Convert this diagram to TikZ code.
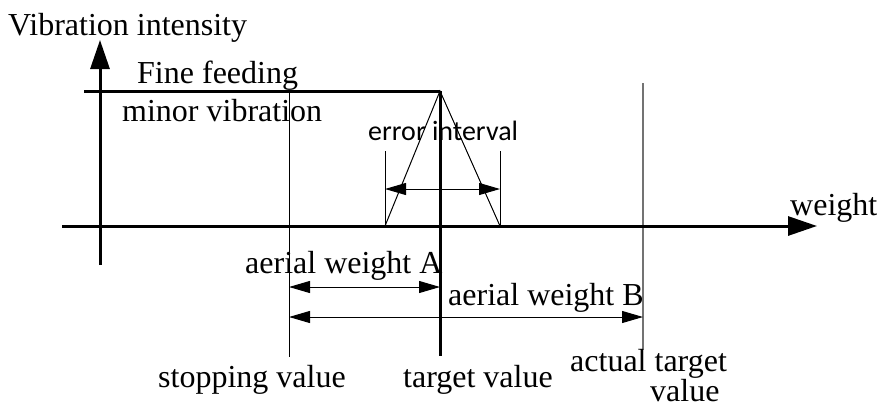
\documentclass[tikz,border=0pt]{standalone}
\usepackage{fontspec}
\setmainfont{Liberation Serif}
\newfontfamily\carlito{Carlito}
\usetikzlibrary{arrows.meta}
\begin{document}
\begin{tikzpicture}[x=1pt,y=-1pt,
  lbl/.style={anchor=base west, inner sep=0pt, font=\fontsize{32}{38}\selectfont},
  axisline/.style={line width=3pt, -{Triangle[length=29pt,width=19pt]}},
  boldline/.style={line width=3pt},
  thinline/.style={line width=1pt},
  grayline/.style={line width=1.5pt, draw=black!55},
  dimline/.style={line width=1pt, {Triangle[length=21pt,width=12pt]}-{Triangle[length=21pt,width=12pt]}}
]
\useasboundingbox (0,0) rectangle (878,407);
% geometry points
\coordinate (yb) at (100,265); \coordinate (yt) at (100,40);
\coordinate (xl) at (62,226); \coordinate (xr) at (817,226);
\coordinate (tl) at (84,91); \coordinate (apex) at (440,91);
\coordinate (sTop) at (289,91); \coordinate (sBot) at (289,357);
\coordinate (tBot) at (440,356);
\coordinate (aTop) at (643,83); \coordinate (aBot) at (643,350);
\coordinate (eL) at (385,226); \coordinate (eR) at (500,226);
\coordinate (eLt) at (385,151); \coordinate (eRt) at (500,151);
\coordinate (eLa) at (385,189); \coordinate (eRa) at (500,189);
\coordinate (wA1) at (289,287); \coordinate (wA2) at (440,287);
\coordinate (wB1) at (289,317); \coordinate (wB2) at (643,317);
% lines
\draw[thinline] (sTop) -- (sBot);
\draw[grayline] (aTop) -- (aBot);
\draw[thinline] (eL) -- (apex) -- (eR);
\draw[thinline] (eLt) -- (eL);
\draw[thinline] (eRt) -- (eR);
\draw[dimline] (eLa) -- (eRa);
\draw[dimline] (wA1) -- (wA2);
\draw[dimline] (wB1) -- (wB2);
\draw[boldline] (tl) -- (apex);
\draw[boldline] (apex) -- (tBot);
\draw[axisline] (yb) -- (yt);
\draw[axisline] (xl) -- (xr);
% labels
\node[lbl] (ylab) at (8,35) {Vibration intensity};
\node[lbl] (fine) at (137,83) {Fine feeding};
\node[lbl] (minor) at (122,121) {minor vibration};
\node[anchor=base west, inner sep=0pt, font=\carlito\fontsize{28}{33}\selectfont] (err) at (368,140) {error interval};
\node[lbl] (wlab) at (790,215) {weight};
\node[lbl] (awa) at (245,273) {aerial weight A};
\node[lbl] (awb) at (448,305) {aerial weight B};
\node[lbl] (stop) at (158,387) {stopping value};
\node[lbl] (targ) at (403,387) {target value};
\node[lbl] (act1) at (570,371) {actual target};
\node[lbl] (act2) at (650,401) {value};
\end{tikzpicture}
\end{document}
